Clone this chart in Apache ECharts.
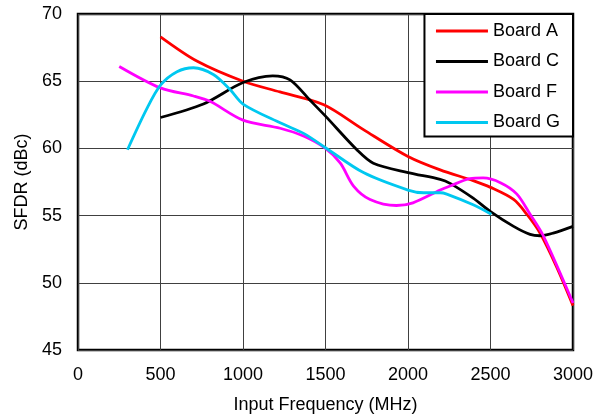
<!DOCTYPE html>
<html><head><meta charset="utf-8">
<script src="https://cdn.jsdelivr.net/npm/echarts@6/dist/echarts.min.js"></script>
<style>html,body{margin:0;padding:0;background:#fff}#c{width:605px;height:419px}</style>
</head><body><div id="c"></div>
<script>
var seriesNames = ['Board A', 'Board C', 'Board F', 'Board G'];
var seriesColors = ['#ff0000', '#000000', '#ff00ff', '#00c8f0'];
var freqA = [500, 720, 1000, 1224, 1490, 1730, 2000, 2195, 2395, 2500, 2640, 2720, 2800, 2900, 3000];
var sfdrA = [68.3, 66.5, 65.0, 64.2, 63.25, 61.4, 59.4, 58.4, 57.6, 57.1, 56.2, 55.1, 53.7, 51.2, 48.3];
var freqC = [500, 760, 1000, 1180, 1285, 1405, 1500, 1690, 1790, 2000, 2195, 2255, 2395, 2500, 2640, 2740, 2800, 2880, 3000];
var sfdrC = [62.3, 63.3, 64.9, 65.4, 65.1, 63.6, 62.4, 59.9, 58.9, 58.2, 57.7, 57.4, 56.3, 55.3, 54.2, 53.6, 53.5, 53.7, 54.2];
var freqF = [250, 500, 700, 800, 1000, 1225, 1370, 1500, 1590, 1670, 1770, 1930, 2030, 2195, 2255, 2375, 2455, 2560, 2660, 2740, 2820, 3000];
var sfdrF = [66.1, 64.5, 63.9, 63.5, 62.1, 61.5, 60.9, 60.0, 58.9, 57.2, 56.2, 55.75, 55.95, 56.9, 57.2, 57.75, 57.8, 57.45, 56.6, 55.1, 53.5, 48.5];
var freqG = [300, 415, 500, 600, 700, 820, 920, 1000, 1225, 1370, 1500, 1730, 2000, 2095, 2195, 2235, 2395, 2505];
var sfdrG = [59.9, 62.9, 64.7, 65.7, 66.0, 65.5, 64.4, 63.3, 61.9, 61.1, 60.05, 58.2, 56.9, 56.7, 56.7, 56.6, 55.8, 55.1];
var xTicks = [0, 500, 1000, 1500, 2000, 2500, 3000];
var yTicks = [45, 50, 55, 60, 65, 70];

function pairs(xs, ys) { return xs.map(function (x, i) { return [x, ys[i]]; }); }
var allData = [pairs(freqA, sfdrA), pairs(freqC, sfdrC), pairs(freqF, sfdrF), pairs(freqG, sfdrG)];

var font = 'Liberation Sans, Arial, sans-serif';
var chart = echarts.init(document.getElementById('c'), null, { renderer: 'canvas' });
chart.setOption({
  animation: false,
  backgroundColor: '#fff',
  textStyle: { fontFamily: font },
  grid: { left: 78, right: 32, top: 14, bottom: 68, show: true, borderColor: '#000', borderWidth: 2.5, backgroundColor: 'transparent' },
  xAxis: {
    type: 'value', min: xTicks[0], max: xTicks[xTicks.length - 1], interval: 500,
    name: 'Input Frequency (MHz)', nameLocation: 'middle', nameGap: 46,
    nameTextStyle: { fontSize: 18, color: '#000', fontFamily: font },
    axisLine: { show: false }, axisTick: { show: false },
    axisLabel: { fontSize: 18, color: '#000', margin: 16, fontFamily: font, formatter: function (v) { return String(v); } },
    splitLine: { show: true, lineStyle: { color: '#404040', width: 1 } }
  },
  yAxis: {
    type: 'value', min: yTicks[0], max: yTicks[yTicks.length - 1], interval: 5,
    name: 'SFDR (dBc)', nameLocation: 'middle', nameGap: 44,
    nameTextStyle: { fontSize: 18, color: '#000', fontFamily: font },
    axisLine: { show: false }, axisTick: { show: false },
    axisLabel: { fontSize: 18, color: '#000', margin: 16, padding: [4, 0, 0, 0], fontFamily: font, formatter: function (v) { return String(v); } },
    splitLine: { show: true, lineStyle: { color: '#404040', width: 1 } }
  },
  legend: {
    orient: 'vertical', right: 32, top: 14,
    backgroundColor: '#fff', borderColor: '#000', borderWidth: 2, borderRadius: 0,
    padding: [8, 13, 5, 11.5], itemGap: 12.5, itemWidth: 52, itemHeight: 14,
    textStyle: { fontSize: 18, color: '#000', fontFamily: font, padding: [0, 0, 0, 0] },
    data: seriesNames.map(function (n) { return { name: n, icon: 'path://M0,5.5L52,5.5L52,8.5L0,8.5Z' }; })
  },
  series: seriesNames.map(function (n, i) {
    return {
      name: n, type: 'line', data: allData[i], smooth: 0.3, showSymbol: false, symbol: 'none',
      lineStyle: { color: seriesColors[i], width: 2.8 }, itemStyle: { color: seriesColors[i] }, z: 3
    };
  })
});
</script></body></html>
